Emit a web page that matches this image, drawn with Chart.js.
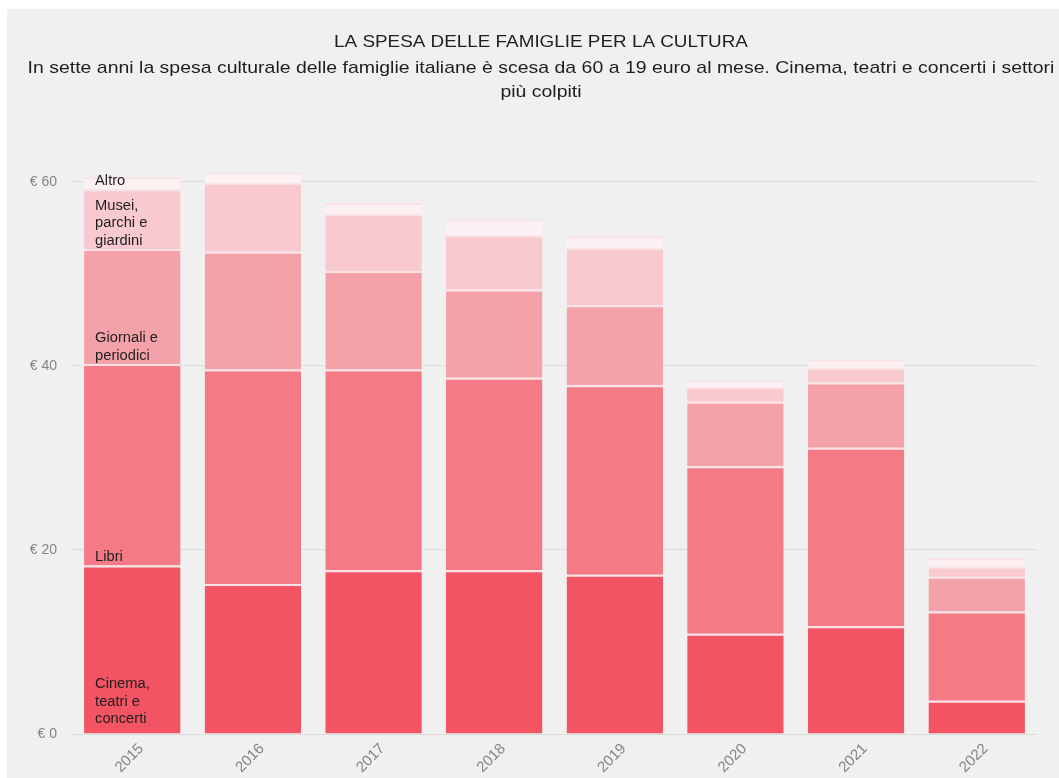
<!DOCTYPE html>
<html>
<head>
<meta charset="utf-8">
<script src="https://cdn.jsdelivr.net/npm/chart.js@4.4.1/dist/chart.umd.min.js"></script>
<style>
  html, body { margin: 0; padding: 0; background: #fff; overflow: hidden; }
  #wrap { position: absolute; left: 7px; top: 9px; width: 1052px; height: 769px; background: #f0f0f0; }
</style>
</head>
<body>
<div id="wrap"><canvas id="chartCultura" width="1052" height="769"></canvas></div>
<script>
// ===== SPESA DELLE FAMIGLIE PER LA CULTURA =====

const years    = ['2015', '2016', '2017', '2018', '2019', '2020', '2021', '2022'];
const cinema   = [18.3, 16.3, 17.8, 17.8, 17.3, 10.9, 11.7, 3.6];
const libri    = [21.9, 23.3, 21.8, 20.9, 20.6, 18.2, 19.4, 9.7];
const giornali = [12.5, 12.8, 10.7, 9.6, 8.7, 7.0, 7.1, 3.8];
const musei    = [6.5, 7.5, 6.2, 5.9, 6.2, 1.6, 1.6, 1.1];
const altro    = [1.3, 1.1, 1.2, 1.7, 1.3, 0.7, 0.9, 0.9];
const seriesLabels = [
  ['Cinema,', 'teatri e', 'concerti'],
  ['Libri'],
  ['Giornali e', 'periodici'],
  ['Musei,', 'parchi e', 'giardini'],
  ['Altro']
];
const yTicks = [0, 20, 40, 60];
const titleText = 'LA SPESA DELLE FAMIGLIE PER LA CULTURA';
const subtitleText = [
  'In sette anni la spesa culturale delle famiglie italiane è scesa da 60 a 19 euro al mese. Cinema, teatri e concerti i settori',
  'più colpiti'
];

const C = {
  cinema:   '#f25464',
  libri:    '#f47a85',
  giornali: '#f5a1a9',
  musei:    '#f8c9cf',
  altro:    '#fdf1f3',
  sep:      '#fbe2e5',
  grid:     '#dcdcdc',
  tick:     '#858585',
  text:     '#1e1e1e'
};
const FONT = '"Liberation Sans", Arial, sans-serif';

// titolo e sottotitolo (testo un po' allargato come nell'originale)
const pluginHeader = {
  id: 'header',
  beforeDraw(chart) {
    const { ctx } = chart;
    const cx = 534;
    ctx.save();
    ctx.fillStyle = C.text;
    ctx.textAlign = 'center';
    ctx.textBaseline = 'middle';
    const line = (t, y, size, sx) => {
      ctx.save();
      ctx.font = `${size}px ${FONT}`;
      ctx.translate(cx, y);
      ctx.scale(sx, 1);
      ctx.fillText(t, 0, 0);
      ctx.restore();
    };
    line(titleText, 33, 17, 1.11);
    subtitleText.forEach((t, i) => line(t, 59 + i * 24, 17, 1.145));
    ctx.restore();
  }
};

// etichette delle serie dentro la prima colonna, allineate in basso
const pluginSeriesLabels = {
  id: 'seriesLabels',
  afterDatasetsDraw(chart) {
    const { ctx } = chart;
    ctx.save();
    ctx.font = `14px ${FONT}`;
    ctx.fillStyle = C.text;
    ctx.textAlign = 'left';
    ctx.textBaseline = 'middle';
    const lh = 17.5;
    seriesLabels.forEach((lines, i) => {
      const el = chart.getDatasetMeta(i).data[0];
      if (!el) return;
      const x = el.x - el.width / 2 + 11;
      const last = el.base - (i === 0 ? 14 : 8);
      lines.forEach((t, j) => {
        ctx.save();
        ctx.translate(x, last - (lines.length - 1 - j) * lh);
        ctx.scale(1.05, 1);
        ctx.fillText(t, 0, 0);
        ctx.restore();
      });
    });
    ctx.restore();
  }
};

(function() {
  const el = document.getElementById('chartCultura');
  const mk = (label, data, color) => ({
    label, data,
    backgroundColor: color,
    borderColor: C.sep,
    borderWidth: { top: 2, right: 0, bottom: 0, left: 0 },
    borderSkipped: false,
    barPercentage: 0.8,
    categoryPercentage: 1.0
  });
  new Chart(el, {
    type: 'bar',
    data: {
      labels: years,
      datasets: [
        mk('Cinema, teatri e concerti', cinema, C.cinema),
        mk('Libri', libri, C.libri),
        mk('Giornali e periodici', giornali, C.giornali),
        mk('Musei, parchi e giardini', musei, C.musei),
        mk('Altro', altro, C.altro)
      ]
    },
    plugins: [pluginHeader, pluginSeriesLabels],
    options: {
      responsive: false,
      animation: false,
      layout: { padding: { left: 0, right: 22, top: 136, bottom: 0 } },
      plugins: {
        legend: { display: false },
        tooltip: { enabled: false },
        title: { display: false },
        subtitle: { display: false }
      },
      scales: {
        x: {
          stacked: true,
          grid: { display: false },
          border: { display: false },
          ticks: {
            color: C.tick,
            font: { size: 15, family: FONT },
            minRotation: 45, maxRotation: 45,
            padding: -2,
            labelOffset: 9
          },
          afterFit: s => { s.height = 44; }
        },
        y: {
          stacked: true,
          min: 0, max: 64,
          grid: { color: C.grid, drawTicks: false },
          border: { display: false },
          afterBuildTicks: s => { s.ticks = yTicks.map(v => ({ value: v })); },
          ticks: {
            color: C.tick,
            padding: 15,
            font: { size: 14, family: FONT },
            callback: v => '€ ' + v
          },
          afterFit: s => { s.width = 65; }
        }
      }
    }
  });
})();
</script>
</body>
</html>
